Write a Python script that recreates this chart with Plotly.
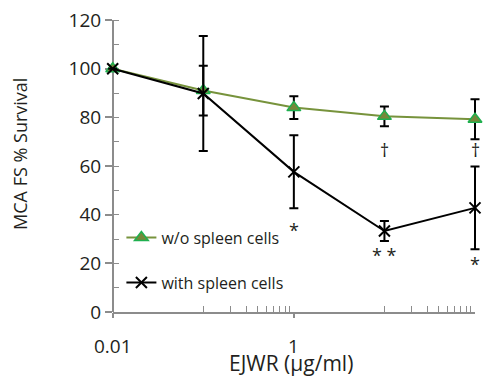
import math
import plotly.graph_objects as go

# ---- data ----
conc = [0.01, 0.1, 1, 10, 100]
wo_spleen = [100, 91.0, 84.0, 80.4, 79.2]
wo_spleen_sd = [0, 10.2, 4.7, 4.1, 8.2]
with_spleen = [100, 89.8, 57.6, 33.3, 42.8]
with_spleen_sd = [0, 23.6, 15.0, 4.1, 17.0]

y_tick_vals = [0, 20, 40, 60, 80, 100, 120]
y_minor_vals = [0, 10, 20, 30, 40, 50, 60, 70, 80, 90, 100, 110, 120]
x_tick_vals = [0.01, 1]
x_tick_text = ["0.01", "1"]
x_minor_vals = [0.1, 0.2, 0.3, 0.4, 0.5, 0.6, 0.7, 0.8, 0.9,
                10, 20, 30, 40, 50, 60, 70, 80, 90]

sig_x = [1, 10, 100, 10, 100]
sig_y = [33.8, 23.3, 19.6, 66.6, 66.6]
sig_text = ["*", "* *", "*", "†", "†"]

FONT = "Open Sans"
TXT = "#231f20"
AX = "#8c8c8c"
NBSP = "\u00a0" * 6

# ---- layout geometry (figure pixels; page adds an 8px body margin) ----
OFF = 8
W, H = 492, 379
ML, MR = 96, 12
axis_left, axis_right = 112.7 - OFF, 475.0 - OFF
axis_top, axis_bottom = 19.7 - OFF, 312.5 - OFF
MT, MB = axis_top, H - axis_bottom
plot_w = W - ML - MR
plot_h = H - MT - MB
p0 = (axis_left - ML) / plot_w
p1 = (axis_right - ML) / plot_w
lo, hi = -2.0, 2.0
per = (hi - lo) / (p1 - p0)
data_range = [lo - p0 * per, hi + (1 - p1) * per]


def px_x(sx):
    return (sx - OFF - ML) / plot_w


def px_y(sy):
    return (axis_bottom - (sy - OFF)) / plot_h


fig = go.Figure()
# empty trace so the visible axis pair gets drawn
fig.add_trace(go.Scatter(x=[], y=[], xaxis="x", yaxis="y",
                         showlegend=False, hoverinfo="skip"))
fig.add_trace(go.Scatter(
    x=conc, y=wo_spleen, mode="lines+markers", name="w/o spleen cells",
    xaxis="x2", yaxis="y",
    line=dict(color="#77933c", width=2),
    marker=dict(symbol="triangle-up", size=12, color="#76883a",
                line=dict(color="#1fb04f", width=1.5)),
    error_y=dict(type="data", array=wo_spleen_sd, color="black",
                 thickness=2, width=4.5),
    cliponaxis=False, legend="legend",
))
fig.add_trace(go.Scatter(
    x=conc, y=with_spleen, mode="lines+markers", name="with spleen cells",
    xaxis="x2", yaxis="y",
    line=dict(color="black", width=2),
    marker=dict(symbol="x-thin", size=11, color="black",
                line=dict(color="black", width=2)),
    error_y=dict(type="data", array=with_spleen_sd, color="black",
                 thickness=2, width=4.5),
    cliponaxis=False, legend="legend2",
))

for sx, sy, st in zip(sig_x, sig_y, sig_text):
    fig.add_annotation(x=math.log10(sx), y=sy, xref="x2", yref="y", text=st,
                       showarrow=False, font=dict(family=FONT, size=18, color=TXT))

# x tick labels, placed at the tick values of the log axis
for tv, tt in zip(x_tick_vals, x_tick_text):
    fig.add_annotation(x=math.log10(tv), y=px_y(347), xref="x", yref="paper",
                       text=tt, showarrow=False, xanchor="center", yanchor="middle",
                       font=dict(family=FONT, size=19, color=TXT))

# axis titles
fig.add_annotation(text="MCA FS % Survival", textangle=-90,
                   xref="paper", yref="paper", x=px_x(20), y=px_y(154),
                   xanchor="center", yanchor="middle", showarrow=False,
                   font=dict(family=FONT, size=18, color=TXT))
fig.add_annotation(text="EJWR (µg/ml)",
                   xref="paper", yref="paper", x=px_x(291), y=px_y(364),
                   xanchor="center", yanchor="middle", showarrow=False,
                   font=dict(family=FONT, size=21, color=TXT))

fig.update_layout(
    width=W, height=H,
    margin=dict(l=ML, r=MR, t=MT, b=MB, pad=0),
    paper_bgcolor="white", plot_bgcolor="rgba(0,0,0,0)",
    font=dict(family=FONT, color=TXT),
    showlegend=True,
    legend=dict(x=px_x(121.4), y=px_y(238), xanchor="left", yanchor="middle",
                bgcolor="rgba(0,0,0,0)", font=dict(size=16, color=TXT, family=FONT)),
    legend2=dict(x=px_x(121.4), y=px_y(283), xanchor="left", yanchor="middle",
                 bgcolor="rgba(0,0,0,0)", font=dict(size=16, color=TXT, family=FONT)),
    # data axis (slightly wider so end error-bar caps are not clipped);
    # it also draws the downward major ticks at the labelled values
    xaxis2=dict(
        type="log", range=data_range, domain=[0, 1], anchor="y",
        showline=False, showgrid=False, zeroline=False, automargin=False,
        showticklabels=False,
        tickmode="array", tickvals=x_tick_vals,
        ticks="outside", ticklen=5, tickwidth=1.5, tickcolor=AX,
    ),
    xaxis=dict(
        type="log", range=[lo, hi], domain=[p0, p1], anchor="y",
        tickmode="array", tickvals=x_tick_vals,
        ticks="", showticklabels=False,
        showline=True, linecolor=AX, linewidth=1.5,
        showgrid=False, zeroline=False, automargin=False,
        minor=dict(tickmode="array", tickvals=x_minor_vals, ticks="inside",
                   ticklen=6, tickwidth=1, tickcolor=AX, showgrid=False),
    ),
    yaxis=dict(
        range=[0, 120], anchor="free", position=p0,
        tickmode="array", tickvals=y_tick_vals, ticksuffix=NBSP,
        ticks="outside", ticklen=7, tickwidth=1.5, tickcolor=AX,
        showline=True, linecolor=AX, linewidth=1.5,
        showgrid=False, zeroline=False, automargin=False,
        tickfont=dict(size=19, family=FONT, color=TXT),
        ticklabeloverflow="allow",
        minor=dict(tickmode="array", tickvals=y_minor_vals, ticks="inside",
                   ticklen=6, tickwidth=1, tickcolor=AX, showgrid=False),
    ),
)

fig.write_html("out.html")
